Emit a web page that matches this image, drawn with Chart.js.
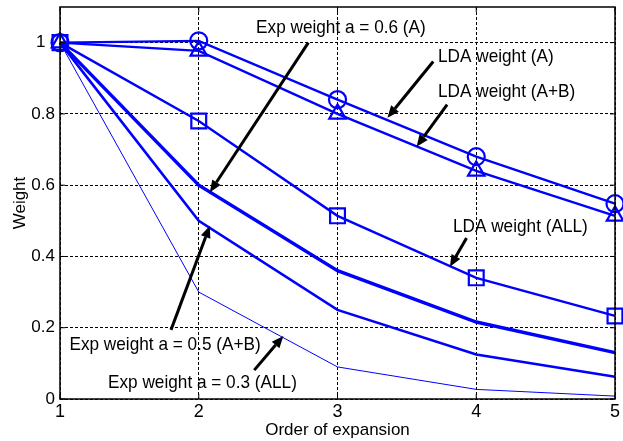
<!DOCTYPE html>
<html><head><meta charset="utf-8">
<script src="https://cdn.jsdelivr.net/npm/chart.js@4"></script>
<style>html,body{margin:0;padding:0;background:#fff;}#wrap{width:623px;height:441px;position:relative;}</style>
</head><body><div id="wrap"><canvas id="c"></canvas></div>
<script>
// ---- data ----
const orders = [1, 2, 3, 4, 5];
const ldaA   = [1, 1.005, 0.84, 0.68, 0.548];
const ldaAB  = [1, 0.977, 0.80, 0.64, 0.514];
const ldaALL = [1, 0.78, 0.514, 0.34, 0.233];
const exp06  = [1, 0.6, 0.36, 0.216, 0.13];
const exp05  = [1, 0.5, 0.25, 0.125, 0.0625];
const exp03  = [1, 0.3, 0.09, 0.027, 0.0081];
const xTicks = [1, 2, 3, 4, 5];
const yTicks = [0, 0.2, 0.4, 0.6, 0.8, 1];
const yTickLabels = ['0', '0.2', '0.4', '0.6', '0.8', '1\u2007'];
const noteTexts = ['Exp weight a = 0.6 (A)', 'LDA weight (A)', 'LDA weight (A+B)', 'LDA weight (ALL)', 'Exp weight a = 0.5 (A+B)', 'Exp weight a = 0.3 (ALL)'];
const xTitle = 'Order of expansion';
const yTitle = 'Weight';

const FONT = "'Liberation Sans', Arial, sans-serif";
const BLUE = '#0000ff';

// annotation placement in data coordinates
const notePlacement = [
  {tx: 2.413, ty: 1.042, from: [2.79, 1.0],  to: [2.08, 0.58]},
  {tx: 3.724, ty: 0.961, from: [3.69, 0.947], to: [3.36, 0.789]},
  {tx: 3.724, ty: 0.862, from: [3.79, 0.826], to: [3.57, 0.708]},
  {tx: 3.832, ty: 0.483, from: [3.93, 0.452], to: [3.81, 0.371]},
  {tx: 1.068, ty: 0.152, from: [1.80, 0.194], to: [2.08, 0.486]},
  {tx: 1.346, ty: 0.045, from: [2.40, 0.081], to: [2.61, 0.177]}
];

function mk(data, width, style, radius) {
  return {
    data: orders.map((x, i) => ({x: x, y: data[i]})),
    borderColor: BLUE, backgroundColor: 'rgba(0,0,0,0)',
    borderWidth: width, pointStyle: style || 'circle',
    pointRadius: style ? radius : 0, pointBorderWidth: 2.2,
    pointBorderColor: BLUE, pointBackgroundColor: 'rgba(0,0,0,0)',
    tension: 0, clip: false
  };
}

const framePlugin = {
  id: 'frame',
  afterDraw(chart) {
    const {ctx, chartArea: a, scales: {x, y}} = chart;
    ctx.save();
    ctx.strokeStyle = '#000'; ctx.lineWidth = 1; ctx.setLineDash([]);
    ctx.beginPath();
    xTicks.forEach(v => { const px = x.getPixelForValue(v);
      ctx.moveTo(px, a.bottom); ctx.lineTo(px, a.bottom - 5);
      ctx.moveTo(px, a.top); ctx.lineTo(px, a.top + 5); });
    yTicks.forEach(v => { const py = y.getPixelForValue(v);
      ctx.moveTo(a.left, py); ctx.lineTo(a.left + 5, py);
      ctx.moveTo(a.right, py); ctx.lineTo(a.right - 5, py); });
    ctx.stroke();
    ctx.lineWidth = 1.5;
    ctx.strokeRect(a.left, a.top, a.right - a.left, a.bottom - a.top);
    // annotations
    ctx.fillStyle = '#000';
    notePlacement.forEach((n, i) => {
      const tx = x.getPixelForValue(n.tx), ty = y.getPixelForValue(n.ty);
      ctx.save();
      ctx.translate(tx, ty); ctx.scale(0.93, 1);
      ctx.font = '18.5px ' + FONT;
      ctx.textBaseline = 'middle'; ctx.textAlign = 'left';
      ctx.fillText(noteTexts[i], 0, 0);
      ctx.restore();
      const x0 = x.getPixelForValue(n.from[0]), y0 = y.getPixelForValue(n.from[1]);
      const x1 = x.getPixelForValue(n.to[0]), y1 = y.getPixelForValue(n.to[1]);
      const ang = Math.atan2(y1 - y0, x1 - x0);
      const L = 12, W = 5;
      const bx = x1 - L * Math.cos(ang), by = y1 - L * Math.sin(ang);
      ctx.lineWidth = 3; ctx.beginPath(); ctx.moveTo(x0, y0); ctx.lineTo(bx, by); ctx.stroke();
      ctx.beginPath(); ctx.moveTo(x1, y1);
      ctx.lineTo(bx + W * Math.sin(ang), by - W * Math.cos(ang));
      ctx.lineTo(bx - W * Math.sin(ang), by + W * Math.cos(ang));
      ctx.closePath(); ctx.fill();
    });
    ctx.restore();
  }
};

new Chart(document.getElementById('c'), {
  type: 'line',
  data: {
    datasets: [
      mk(ldaA, 2.4, 'circle', 8.5),
      mk(ldaAB, 2.4, 'triangle', 9.5),
      mk(ldaALL, 2.4, 'rect', 10.5),
      mk(exp06, 3.4),
      mk(exp05, 2.6),
      mk(exp03, 1)
    ]
  },
  options: {
    responsive: true, maintainAspectRatio: false, animation: false,
    layout: {autoPadding: false, padding: {left: 0, top: 7, right: 8, bottom: 0}},
    plugins: {legend: {display: false}, tooltip: {enabled: false}},
    scales: {
      x: {
        type: 'linear', min: 1, max: 5,
        afterBuildTicks: s => { s.ticks = xTicks.map(v => ({value: v})); },
        afterFit: s => { s.height = 42; s.paddingLeft = 0; s.paddingRight = 0; },
        ticks: {color: '#000', font: {family: FONT, size: 18}, padding: 2, callback: v => String(v), maxRotation: 0},
        grid: {color: '#000', lineWidth: 1, drawTicks: false},
        border: {display: false, dash: [3, 2]},
        title: {display: true, text: xTitle, color: '#000', font: {family: FONT, size: 17}, padding: {top: 0, bottom: 0}}
      },
      y: {
        type: 'linear', min: 0, max: 1.1,
        afterBuildTicks: s => { s.ticks = yTicks.map(v => ({value: v})); },
        afterFit: s => { s.width = 60; s.paddingTop = 0; s.paddingBottom = 0; },
        ticks: {color: '#000', font: {family: FONT, size: 17}, padding: 5,
          callback: (v) => { const i = yTicks.findIndex(t => Math.abs(t - v) < 1e-9); return i >= 0 ? yTickLabels[i] : ''; }},
        grid: {color: '#000', lineWidth: 1, drawTicks: false},
        border: {display: false, dash: [3, 2]},
        title: {display: true, text: yTitle, color: '#000', font: {family: FONT, size: 17}, padding: {top: 10, bottom: 0}}
      }
    }
  },
  plugins: [framePlugin]
});
</script></body></html>
